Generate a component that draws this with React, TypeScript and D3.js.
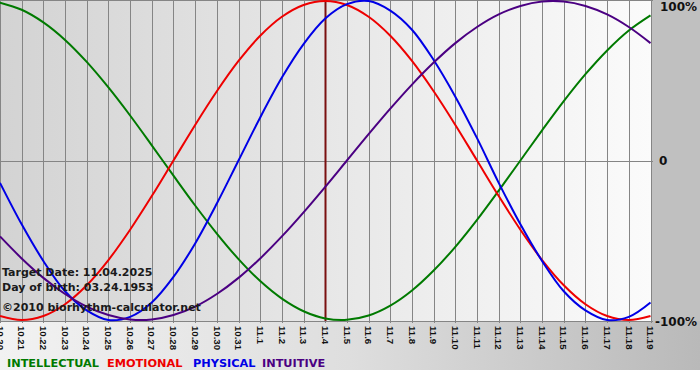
import React from "react";
import * as d3 from "d3";

const dayLabels = [
  "10.20", "10.21", "10.22", "10.23", "10.24", "10.25", "10.26", "10.27", "10.28", "10.29", "10.30", "10.31",
  "11.1", "11.2", "11.3", "11.4", "11.5", "11.6", "11.7", "11.8", "11.9", "11.10", "11.11", "11.12",
  "11.13", "11.14", "11.15", "11.16", "11.17", "11.18", "11.19",
];

const physical = [
  -0.14, -0.4, -0.63, -0.82, -0.94, -1.0, -0.98, -0.89, -0.73, -0.52, -0.27, 0.0, 0.27, 0.52, 0.73, 0.89,
  0.98, 1.0, 0.94, 0.82, 0.63, 0.4, 0.14, -0.14, -0.4, -0.63, -0.82, -0.94, -1.0, -0.98, -0.89,
];
const emotional = [
  -0.975, -1.0, -0.975, -0.901, -0.782, -0.624, -0.434, -0.223, 0.0, 0.223, 0.434, 0.624, 0.782, 0.901, 0.975, 1.0,
  0.975, 0.901, 0.782, 0.624, 0.434, 0.223, 0.0, -0.223, -0.434, -0.624, -0.782, -0.901, -0.975, -1.0, -0.975,
];
const intellectual = [
  0.99, 0.945, 0.866, 0.756, 0.618, 0.458, 0.282, 0.095, -0.095, -0.282, -0.458, -0.618, -0.756, -0.866, -0.945, -0.99,
  -0.999, -0.972, -0.91, -0.815, -0.69, -0.541, -0.372, -0.189, 0.0, 0.189, 0.372, 0.541, 0.69, 0.815, 0.91,
];
const intuitive = [
  -0.476, -0.614, -0.736, -0.837, -0.916, -0.969, -0.997, -0.997, -0.969, -0.916, -0.837, -0.736, -0.614, -0.476, -0.325, -0.165,
  0.0, 0.165, 0.325, 0.476, 0.614, 0.736, 0.837, 0.916, 0.969, 0.997, 0.997, 0.969, 0.916, 0.837, 0.736,
];

const seriesNames = ["INTELLECTUAL", "EMOTIONAL", "PHYSICAL", "INTUITIVE"];
const seriesValues = [intellectual, emotional, physical, intuitive];

const targetIndex = 15;
const infoLines = ["Target Date: 11.04.2025", "Day of birth: 03.24.1953"];
const copyright = "\u00a92010 biorhythm-calculator.net";
const yTickValues = [1, 0, -1];
const yTickLabels = ["100%", "0", "-100%"];

export default function App() {
  const W = 700;
  const H = 380;
  const plotR = 651;
  const plotB = 321;
  const colors = ["#007a00", "#ee0000", "#0000e6", "#4b0082"];
  const legendX = [7, 107, 193, 262];
  const x = d3.scaleLinear().domain([0, dayLabels.length - 1]).range([0, 650.5]);
  const y = d3.scaleLinear().domain([-1, 1]).range([320, 1]);
  const line = d3
    .line<number>()
    .x((_, i) => x(i))
    .y((v) => y(v))
    .curve(d3.curveCatmullRom.alpha(0.5));

  const font = "'DejaVu Sans', Verdana, sans-serif";

  return (
    <svg
      width={W}
      height={H}
      style={{ position: "absolute", left: 0, top: 0, display: "block" }}
      fontFamily={font}
    >
      <defs>
        <linearGradient id="plotBg" x1="0" x2="1" y1="0" y2="0">
          <stop offset="0" stopColor="#d3d3d3" />
          <stop offset="1" stopColor="#fbfbfb" />
        </linearGradient>
        <linearGradient id="bottomBg" x1="0" x2="1" y1="0" y2="0">
          <stop offset="0" stopColor="#f2f2f2" />
          <stop offset="0.5" stopColor="#dedede" />
          <stop offset="1" stopColor="#b9b9b9" />
        </linearGradient>
      </defs>
      <rect x={0} y={0} width={W} height={H} fill="#ffffff" />
      <rect x={0} y={plotB} width={W} height={370 - plotB} fill="url(#bottomBg)" />
      <rect x={plotR} y={0} width={W - plotR} height={plotB} fill="#c0c0c0" />
      <rect x={0} y={0} width={plotR} height={plotB} fill="url(#plotBg)" />

      {dayLabels.map((d, i) => (
        <line
          key={"g" + i}
          x1={Math.round(x(i)) + 0.5}
          x2={Math.round(x(i)) + 0.5}
          y1={0}
          y2={plotB + 2}
          stroke="#858585"
          strokeWidth={1}
        />
      ))}
      {yTickValues.map((v, i) => {
        const yy = v === 1 ? 0.5 : v === -1 ? plotB + 0.5 : Math.round(y(v)) + 0.5;
        return <line key={"h" + i} x1={0} x2={plotR + 2} y1={yy} y2={yy} stroke="#858585" strokeWidth={1} />;
      })}

      <line
        x1={Math.round(x(targetIndex)) + 0.5}
        x2={Math.round(x(targetIndex)) + 0.5}
        y1={0}
        y2={plotB}
        stroke="#7a1010"
        strokeWidth={2}
      />

      {seriesValues.map((vals, k) => (
        <path key={seriesNames[k]} d={line(vals) || ""} fill="none" stroke={colors[k]} strokeWidth={2} />
      ))}

      {yTickValues.map((v, i) => {
        const yy = v === 1 ? 7 : v === -1 ? plotB + 1 : y(v) + 1;
        return (
          <text
            key={"yl" + i}
            x={v === -1 ? 655 : v === 0 ? 659 : 660}
            y={yy}
            dominantBaseline="middle"
            fontSize={12}
            fontWeight="bold"
            fill="#111"
          >
            {yTickLabels[i]}
          </text>
        );
      })}

      {dayLabels.map((d, i) => (
        <text
          key={"xl" + i}
          transform={`translate(${x(i) - 3.3},${plotB + 5}) rotate(90)`}
          fontSize={9.6}
          fontFamily="'Liberation Sans', Arial, sans-serif"
          fontWeight="bold"
          fill="#111"
        >
          {d}
        </text>
      ))}

      {infoLines.map((t, i) => (
        <text key={"i" + i} x={2} y={276 + i * 14.5} fontSize={11} fontWeight="bold" fill="#1a1a1a">
          {t}
        </text>
      ))}
      <text x={2} y={311} fontSize={11} fontWeight="bold" fill="#1a1a1a">
        {copyright}
      </text>

      {seriesNames.map((name, k) => (
        <text key={"lg" + name} x={legendX[k]} y={367} fontSize={11.3} fontWeight="bold" fill={colors[k]}>
          {name}
        </text>
      ))}
    </svg>
  );
}
